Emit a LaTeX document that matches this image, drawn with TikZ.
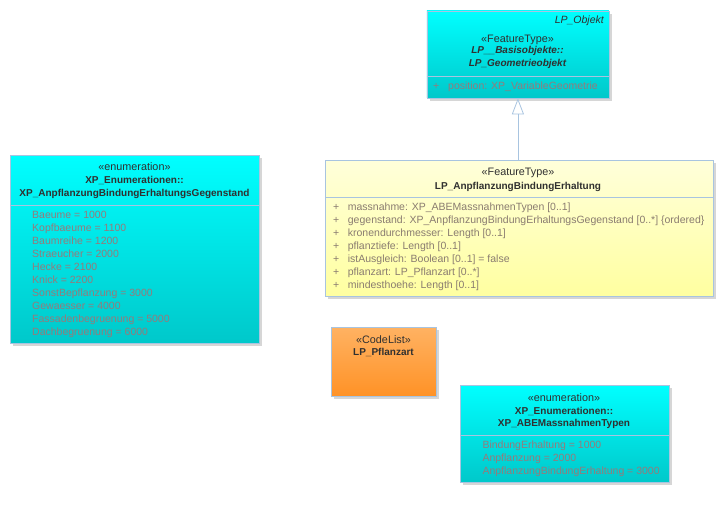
\documentclass[tikz,border=0pt]{standalone}
\usepackage{fontspec}
\setmainfont{Liberation Sans}
\usetikzlibrary{arrows.meta,shadows}

\definecolor{cyantop}{RGB}{0,255,255}
\definecolor{cyanbot}{RGB}{0,200,202}
\definecolor{yellowtop}{RGB}{255,255,218}
\definecolor{yellowbot}{RGB}{255,255,160}
\definecolor{orangetop}{RGB}{255,178,98}
\definecolor{orangebot}{RGB}{255,146,38}
\definecolor{boxline}{RGB}{168,196,224}
\definecolor{shadowgray}{RGB}{214,214,214}
\definecolor{titlegray}{RGB}{48,48,48}
\definecolor{enumtext}{RGB}{150,122,122}
\definecolor{attrtext}{RGB}{138,124,112}

\tikzset{
  umlbox/.style={draw=boxline, line width=0.8pt, anchor=north west, inner sep=0pt,
    drop shadow={shadow xshift=3pt, shadow yshift=-3pt, fill=shadowgray, opacity=1}},
  cyanbox/.style={umlbox, top color=cyantop, bottom color=cyanbot},
  yellowbox/.style={umlbox, top color=yellowtop, bottom color=yellowbot},
  orangebox/.style={umlbox, top color=orangetop, bottom color=orangebot},
  divider/.style={draw=boxline, line width=0.8pt},
  stereo/.style={inner sep=0pt, text height=8pt, text depth=2pt, text=titlegray,
    font=\fontsize{10.8}{12}\selectfont},
  classname/.style={stereo, font=\fontsize{10}{12}\selectfont\bfseries},
  literal/.style={stereo, anchor=west, text=enumtext, font=\fontsize{10.5}{12}\selectfont},
  attribute/.style={stereo, anchor=west, text=attrtext, font=\fontsize{10.5}{12}\selectfont},
  genarrow/.style={draw=boxline, line width=0.8pt, -{Triangle[open, length=16pt, width=12pt, fill=white]}}
}

\begin{document}
\begin{tikzpicture}[x=1pt, y=-1pt]
    \useasboundingbox (0,0) rectangle (723,512);

    % LP_Objekt / LP_Geometrieobjekt
    \node[cyanbox, minimum width=182pt, minimum height=87pt] (objekt) at (426.5,10.5) {};
    \draw[divider] (426.5,76) -- (608.5,76);
    \node[stereo, anchor=east, font=\fontsize{10.5}{12}\selectfont\itshape] (objektname) at (604,20) {LP\_Objekt};
    \node[stereo] (objektstereo) at (517.5,39) {«FeatureType»};
    \node[classname, font=\fontsize{10}{12}\selectfont\bfseries\itshape] (objektpkg) at (517.5,50.7) {LP\_\_Basisobjekte::};
    \node[classname, font=\fontsize{10}{12}\selectfont\bfseries\itshape] (objekttitle) at (517.5,63.7) {LP\_Geometrieobjekt};
    \node[literal] (objektplus) at (433,86.7) {+};
    \node[literal] (objektattr) at (448,86.7) {position: XP\_VariableGeometrie};

    % Enumeration Gegenstand
    \node[cyanbox, minimum width=249pt, minimum height=188pt] (gegenstand) at (10,155) {};
    \draw[divider] (10,205) -- (259,205);
    \node[stereo] (gegenstandstereo) at (134.5,167.3) {«enumeration»};
    \node[classname] (gegenstandpkg) at (134.5,180.7) {XP\_Enumerationen::};
    \node[classname] (gegenstandtitle) at (134.5,193.7) {XP\_AnpflanzungBindungErhaltungsGegenstand};
    \foreach \lit [count=\i] in {Baeume = 1000, Kopfbaeume = 1100, Baumreihe = 1200,
        Straeucher = 2000, Hecke = 2100, Knick = 2200, SonstBepflanzung = 3000,
        Gewaesser = 4000, Fassadenbegruenung = 5000, Dachbegruenung = 6000}
      \node[literal] (gegenstand\i) at (32,{202.7+13*\i}) {\lit};

    % FeatureType LP_AnpflanzungBindungErhaltung
    \node[yellowbox, minimum width=388pt, minimum height=136pt] (anpflanzung) at (325,160) {};
    \draw[divider] (325,197) -- (713,197);
    \node[stereo] (anpflanzungstereo) at (518,172) {«FeatureType»};
    \node[classname] (anpflanzungtitle) at (518,186) {LP\_AnpflanzungBindungErhaltung};
    \foreach \attr [count=\i] in {massnahme: XP\_ABEMassnahmenTypen [0..1],
        gegenstand: XP\_AnpflanzungBindungErhaltungsGegenstand [0..*] \{ordered\},
        kronendurchmesser: Length [0..1], pflanztiefe: Length [0..1],
        istAusgleich: Boolean [0..1] = false, pflanzart: LP\_Pflanzart [0..*],
        mindesthoehe: Length [0..1]}
    {
      \node[attribute] (plus\i) at (333,{194.7+13*\i}) {+};
      \node[attribute] (anpflanzung\i) at (347.7,{194.7+13*\i}) {\attr};
    }

    % CodeList LP_Pflanzart
    \node[orangebox, minimum width=105pt, minimum height=69pt] (pflanzart) at (331,327) {};
    \node[stereo] (pflanzartstereo) at (383.5,340) {«CodeList»};
    \node[classname] (pflanzarttitle) at (383.5,352.7) {LP\_Pflanzart};

    % Enumeration Massnahmen
    \node[cyanbox, minimum width=208.5pt, minimum height=97pt] (massnahmen) at (460,385) {};
    \draw[divider] (460,435) -- (668.5,435);
    \node[stereo] (massnahmenstereo) at (564,398) {«enumeration»};
    \node[classname] (massnahmenpkg) at (564,411) {XP\_Enumerationen::};
    \node[classname] (massnahmentitle) at (564,423.7) {XP\_ABEMassnahmenTypen};
    \foreach \lit [count=\i] in {BindungErhaltung = 1000, Anpflanzung = 2000,
        AnpflanzungBindungErhaltung = 3000}
      \node[literal] (massnahmen\i) at (482.3,{432.7+13*\i}) {\lit};

    % Generalization
    \draw[genarrow] (anpflanzung.north -| objekt.south) -- (objekt.south);
\end{tikzpicture}
\end{document}
